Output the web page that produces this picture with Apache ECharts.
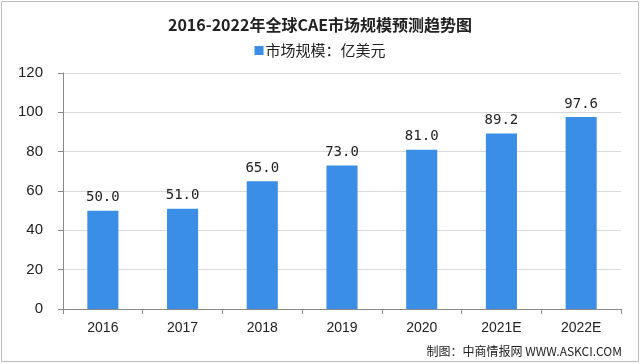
<!DOCTYPE html>
<html><head><meta charset="utf-8">
<script src="https://cdn.jsdelivr.net/npm/echarts@6/dist/echarts.min.js"></script>
<style>html,body{margin:0;padding:0;background:#fff}#c{width:640px;height:363px}</style>
</head><body><div id="c"></div>
<script>
const categories = ['2016','2017','2018','2019','2020','2021E','2022E'];
const marketSize = [50.0, 51.0, 65.0, 73.0, 81.0, 89.2, 97.6];
const yTicks = [0, 20, 40, 60, 80, 100, 120];
const titleText = '2016-2022年全球CAE市场规模预测趋势图';
const seriesName = '市场规模：亿美元';
const footerText = '制图：中商情报网 WWW.ASKCI.COM';

const chart = echarts.init(document.getElementById('c'));
chart.setOption({
  animation: false,
  backgroundColor: '#fff',
  title: {
    text: titleText, left: 'center', top: 12,
    textStyle: {fontFamily: 'Noto Sans CJK SC', fontSize: 16, fontWeight: 'bold', color: '#222'}
  },
  legend: {
    data: [seriesName], top: 38, left: 'center', itemWidth: 9, itemHeight: 9, itemGap: 4,
    icon: 'rect',
    textStyle: {fontFamily: 'Noto Sans CJK SC', fontSize: 15, color: '#222', padding: [0,0,0,-3]}
  },
  graphic: [
    {type: 'rect', shape: {x: 1.5, y: 1.5, width: 637, height: 360}, style: {fill: 'none', stroke: '#bbb', lineWidth: 1}},
    {type: 'text', right: 18, top: 345, style: {text: footerText, fontFamily: 'Noto Sans CJK SC', fontSize: 12, fill: '#222'}}
  ],
  grid: {left: 63, right: 19, top: 73, bottom: 54},
  xAxis: {
    type: 'category', data: categories,
    axisLine: {lineStyle: {color: '#888'}},
    axisTick: {show: true, length: 5, lineStyle: {color: '#888'}},
    axisLabel: {fontFamily: 'Liberation Sans', fontSize: 14, color: '#222', margin: 12}
  },
  yAxis: {
    type: 'value', min: yTicks[0], max: yTicks[yTicks.length-1], interval: yTicks[1]-yTicks[0],
    axisLine: {show: true, lineStyle: {color: '#888'}},
    axisTick: {show: true, length: 5, lineStyle: {color: '#888'}},
    splitLine: {lineStyle: {color: '#d9d9d9'}},
    axisLabel: {fontFamily: 'Liberation Sans', fontSize: 15, color: '#222', margin: 20}
  },
  series: [{
    name: seriesName, type: 'bar', data: marketSize, barWidth: '39%',
    itemStyle: {color: '#3a8ee6'},
    label: {show: true, position: 'top', distance: 6, fontFamily: 'DejaVu Sans Mono', fontSize: 14, color: '#222',
      formatter: p => p.value.toFixed(1)}
  }]
});
</script></body></html>
